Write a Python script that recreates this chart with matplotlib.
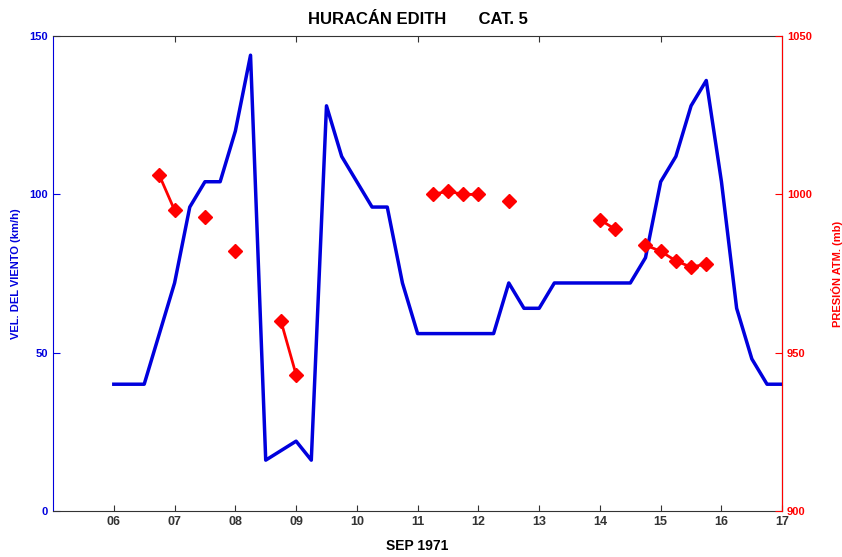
import numpy as np
import matplotlib
matplotlib.use("Agg")
import matplotlib.pyplot as plt

plt.rcParams['font.family'] = ['Liberation Sans', 'DejaVu Sans']

# wind speed, 6-hourly from 06 to 17 sep 1971
t_wind = np.arange(6.0, 17.01, 0.25)
wind = [40, 40, 40, 56, 72, 96, 104, 104, 120, 144, 16, 19, 22, 16,
        128, 112, 104, 96, 96, 72, 56, 56, 56, 56, 56, 56, 72, 64, 64,
        72, 72, 72, 72, 72, 72, 80, 104, 112, 128, 136, 104, 64, 48, 40,
        40]

# pressure (mb), nan where no observation
t_pres = np.arange(6.75, 15.76, 0.25)
nan = np.nan
pres = [1006, 995, nan, 993, nan, 982, nan, nan, 960, 943,
        nan, nan, nan, nan, nan, nan, nan, nan, 1000, 1001, 1000, 1000,
        nan, 998, nan, nan, nan, nan, nan, 992, 989, nan, 984, 982, 979,
        977, 978]

day_ticks = np.arange(6, 18)
day_labels = ['%02d' % d for d in day_ticks]

blue = '#0000dd'
red = '#ff0000'

fig = plt.figure(figsize=(8.42, 5.57), dpi=100)
ax = fig.add_axes([0.063, 0.083, 0.866, 0.852])
ax.plot(t_wind, wind, color=blue, lw=2.5, zorder=2)
ax.set_xlim(5, 17)
ax.set_ylim(0, 150)
ax.set_yticks([0, 50, 100, 150])
ax.set_xticks(day_ticks)
ax.set_xticklabels(day_labels)
ax.tick_params(axis='y', direction='in', colors=blue, labelsize=8, length=5)
ax.tick_params(axis='x', direction='in', colors='#333333', labelsize=9, length=4)
for lab in ax.get_xticklabels() + ax.get_yticklabels():
    lab.set_fontweight('bold')
ax.spines['left'].set_color(blue)
ax.spines['bottom'].set_color('#333333')
ax.spines['top'].set_color('#333333')
ax.set_ylabel('VEL. DEL VIENTO (km/h)', color=blue, fontsize=8, fontweight='bold', labelpad=6)
ax.set_xlabel('SEP 1971', fontsize=10, fontweight='bold', labelpad=8)
ax.set_title('HURACÁN EDITH       CAT. 5', fontsize=12, fontweight='bold', pad=9)

ax2 = ax.twinx()
ax2.plot(t_pres, pres, color=red, lw=2, marker='D', markersize=7.5, zorder=3)
ax2.set_ylim(900, 1050)
ax2.set_yticks([900, 950, 1000, 1050])
ax2.tick_params(axis='y', direction='in', colors=red, labelsize=8, length=5)
for lab in ax2.get_yticklabels():
    lab.set_fontweight('bold')
ax2.spines['right'].set_color(red)
ax2.spines['left'].set_visible(False)
ax2.spines['top'].set_visible(False)
ax2.spines['bottom'].set_visible(False)
ax2.set_ylabel('PRESIÓN ATM. (mb)', color=red, fontsize=8, fontweight='bold', labelpad=14)

# top ticks every two days
ax3 = ax.secondary_xaxis('top')
ax3.set_xticks([7, 9, 11, 13, 15])
ax3.tick_params(direction='in', length=4, labeltop=False, colors='#333333')
ax3.spines['top'].set_visible(False)

fig.savefig('out.png', dpi=100)
